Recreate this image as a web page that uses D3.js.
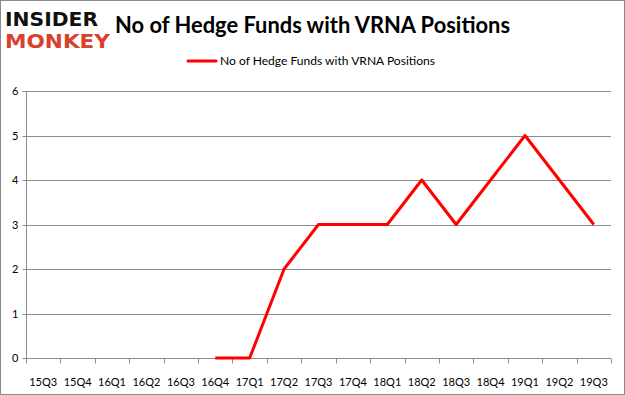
<!DOCTYPE html>
<html>
<head>
<meta charset="utf-8">
<script src="https://cdn.jsdelivr.net/npm/d3@7"></script>
<style>
  html, body { margin: 0; padding: 0; background: #fff; }
  svg { display: block; }
</style>
</head>
<body>
<svg id="chart" width="625" height="395"></svg>
<script>
const quarters = ["15Q3","15Q4","16Q1","16Q2","16Q3","16Q4","17Q1","17Q2","17Q3","17Q4","18Q1","18Q2","18Q3","18Q4","19Q1","19Q2","19Q3"];
// null = no data for that quarter
const funds = [null,null,null,null,null,0,0,2,3,3,3,4,3,4,5,4,3];
const yTicks = [0,1,2,3,4,5,6];
const seriesName = "No of Hedge Funds with VRNA Positions";

const svg = d3.select("svg#chart");
const width = 625, height = 395;
const margin = {left: 26, right: 14, top: 91, bottom: 37};
const font = "Lato, 'Open Sans', sans-serif";

// frame
svg.append("rect")
  .attr("x", 0.5).attr("y", 0.5)
  .attr("width", width - 1).attr("height", height - 1)
  .attr("fill", "#fff").attr("stroke", "#8a8a8a");

const x = d3.scaleBand()
  .domain(quarters)
  .range([margin.left, width - margin.right]);

const y = d3.scaleLinear()
  .domain([0, 6])
  .range([height - margin.bottom, margin.top]);

// grid
svg.append("g")
  .selectAll("line")
  .data(yTicks)
  .join("line")
    .attr("x1", margin.left).attr("x2", width - margin.right)
    .attr("y1", d => Math.round(y(d)) + 0.5).attr("y2", d => Math.round(y(d)) + 0.5)
    .attr("stroke", "#8c8c8c").attr("stroke-width", 1);

// y axis
const yAxis = svg.append("g")
  .attr("transform", `translate(${margin.left + 0.5},0.5)`)
  .call(d3.axisLeft(y).tickValues(yTicks).tickSize(4).tickPadding(4).tickFormat(d3.format("d")));
yAxis.select(".domain").attr("stroke", "#8c8c8c").attr("d", `M-4,${Math.round(y(6))}H0V${Math.round(y(0))}`);
yAxis.selectAll(".tick line").attr("stroke", "#8c8c8c");
yAxis.selectAll("text").attr("font-family", font).attr("font-size", 11).attr("fill", "#000");
yAxis.selectAll(".tick").attr("transform", d => `translate(0,${Math.round(y(d))})`);

// x axis: ticks at category boundaries
const xg = svg.append("g")
  .attr("transform", `translate(0,${Math.round(y(0)) + 0.5})`);
xg.append("line")
  .attr("x1", margin.left).attr("x2", width - margin.right)
  .attr("stroke", "#8c8c8c");
const bounds = quarters.map(q => x(q)).concat([x(quarters[quarters.length - 1]) + x.bandwidth()]);
xg.selectAll("line.tk")
  .data(bounds)
  .join("line")
    .attr("class", "tk")
    .attr("x1", d => Math.round(d) + 0.5).attr("x2", d => Math.round(d) + 0.5)
    .attr("y1", 0).attr("y2", 5)
    .attr("stroke", "#8c8c8c");
xg.selectAll("text")
  .data(quarters)
  .join("text")
    .attr("x", d => x(d) + x.bandwidth() / 2)
    .attr("y", 27)
    .attr("text-anchor", "middle")
    .attr("font-family", font).attr("font-size", 11)
    .text(d => d);

// line
const line = d3.line()
  .defined(d => d.v !== null)
  .x(d => x(d.q) + x.bandwidth() / 2)
  .y(d => y(d.v));
svg.append("path")
  .datum(quarters.map((q, i) => ({q, v: funds[i]})))
  .attr("fill", "none")
  .attr("stroke", "#ff0000")
  .attr("stroke-width", 3)
  .attr("stroke-linejoin", "round")
  .attr("d", line);

// title
svg.append("text")
  .attr("x", 115).attr("y", 33)
  .attr("font-family", font).attr("font-weight", "bold").attr("font-size", 22)
  .attr("textLength", 395).attr("lengthAdjust", "spacingAndGlyphs")
  .text(seriesName);

// legend
svg.append("line")
  .attr("x1", 188).attr("x2", 216).attr("y1", 61).attr("y2", 61)
  .attr("stroke", "#ff0000").attr("stroke-width", 3).attr("stroke-linecap", "round");
svg.append("text")
  .attr("x", 220).attr("y", 65)
  .attr("font-family", font).attr("font-size", 12)
  .attr("textLength", 215).attr("lengthAdjust", "spacingAndGlyphs")
  .text(seriesName);

// logo
svg.append("text")
  .attr("x", 5).attr("y", 26)
  .attr("font-family", "'DejaVu Sans', sans-serif").attr("font-weight", "bold").attr("font-size", 19)
  .attr("textLength", 93).attr("lengthAdjust", "spacingAndGlyphs")
  .attr("fill", "#111")
  .text("INSIDER");
svg.append("text")
  .attr("x", 5).attr("y", 48)
  .attr("font-family", "'DejaVu Sans', sans-serif").attr("font-weight", "bold").attr("font-size", 19)
  .attr("textLength", 105).attr("lengthAdjust", "spacingAndGlyphs")
  .attr("fill", "#d9412c")
  .text("MONKEY");
</script>
</body>
</html>
